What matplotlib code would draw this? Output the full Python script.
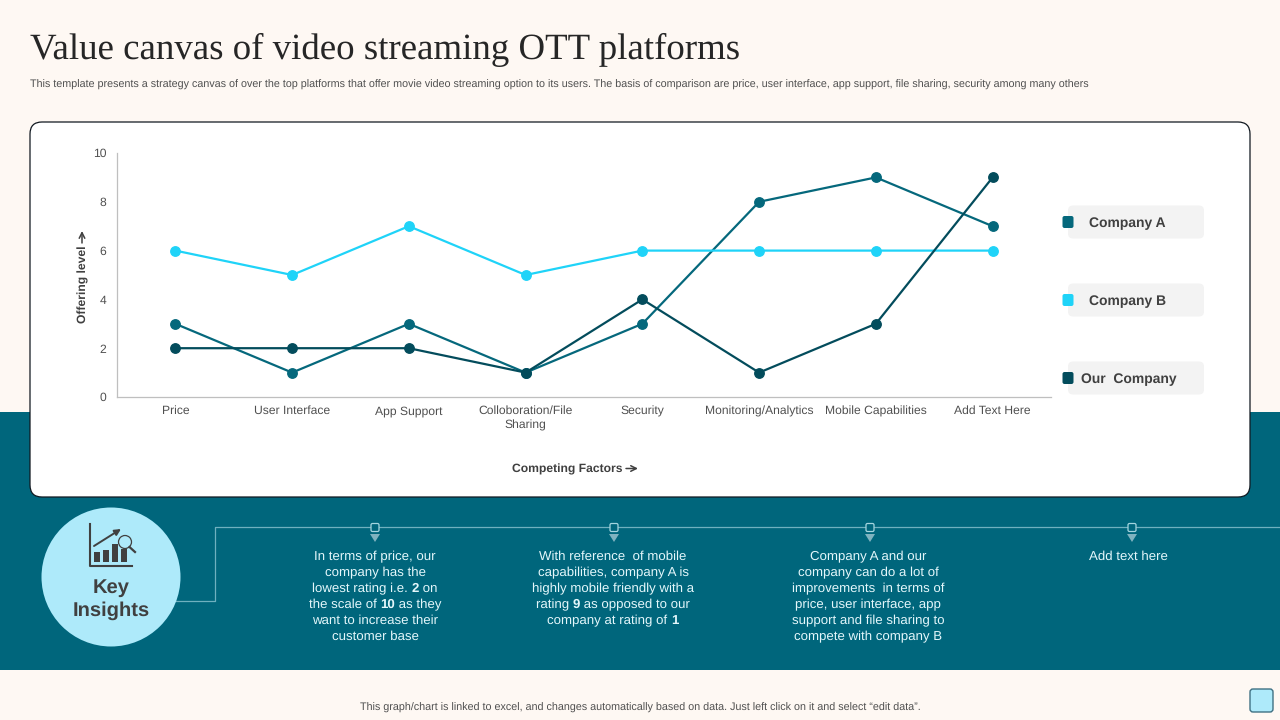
import matplotlib
matplotlib.use("Agg")
import matplotlib.pyplot as plt
from matplotlib.patches import FancyBboxPatch, Circle, Rectangle, Polygon

plt.rcParams['font.family'] = ['Liberation Sans', 'DejaVu Sans']
plt.rcParams['text.hinting'] = 'no_hinting'

# data
categories = ["Price", "User Interface", "App Support", "Colloboration/File\nSharing", "Security",
              "Monitoring/Analytics", "Mobile Capabilities", "Add Text Here"]
company_a = [3, 1, 3, 1, 3, 8, 9, 7]
company_b = [6, 5, 7, 5, 6, 6, 6, 6]
our_company = [2, 2, 2, 1, 4, 1, 3, 9]
y_ticks = [0, 2, 4, 6, 8, 10]

CREAM = "#fef8f3"
TEAL = "#00667c"
CYAN = "#1fd3f8"
A_COL = "#05687c"
OUR_COL = "#034c5c"
PALE = "#aeeafa"
DARK = "#404040"
LINE = "#6fb0bf"

fig = plt.figure(figsize=(12.8, 7.2), dpi=100, facecolor=CREAM)
renderer = fig.canvas.get_renderer()

# page layer in pixel coordinates
bg = fig.add_axes([0, 0, 1, 1])
bg.set_xlim(0, 1280)
bg.set_ylim(720, 0)
bg.axis("off")


def text_width(s, **kw):
    # padded with x on both sides so that spaces at the ends are counted
    t1 = bg.text(0, 0, "x" + s + "x", **kw)
    t2 = bg.text(0, 0, "xx", **kw)
    w = t1.get_window_extent(renderer).width - t2.get_window_extent(renderer).width
    t1.remove()
    t2.remove()
    return w


def mixed_row(cx, y, row, fontsize=9.5, color="#e4f7fb"):
    # row is split on * : odd pieces are bold
    parts = row.split("*")
    weights = ["bold" if i % 2 else "normal" for i in range(len(parts))]
    widths = [text_width(p, fontsize=fontsize, fontweight=w) for p, w in zip(parts, weights)]
    px = cx - sum(widths) / 2
    for p, w, pw in zip(parts, weights, widths):
        bg.text(px, y, p, fontsize=fontsize, fontweight=w, color=color, ha="left", va="baseline")
        px += pw


bg.add_patch(Rectangle((0, 412), 1280, 258, fc=TEAL, ec="none"))
bg.add_patch(FancyBboxPatch((30, 122), 1220, 375, boxstyle="round,pad=0,rounding_size=12",
                            fc="white", ec="#101820", lw=0.9))

bg.text(30, 59, "Value canvas of video streaming OTT platforms", family="Liberation Serif",
        fontsize=26.6, color="#262626", va="baseline", ha="left")
bg.text(30, 84.5, "This template presents a strategy canvas of over the top platforms that offer movie video "
        "streaming option to its users. The basis of comparison are price, user interface, app support, "
        "file sharing, security among many others", fontsize=7.78, color="#505050", va="center", ha="left")
bg.text(640, 708, "This graph/chart is linked to excel, and changes automatically based on data. "
        "Just left click on it and select \u201cedit data\u201d.", fontsize=7.77, color="#505050",
        va="center", ha="center")
bg.add_patch(FancyBboxPatch((1250, 689), 23, 23, boxstyle="round,pad=0,rounding_size=3",
                            fc=PALE, ec="#3f7183", lw=1))

# legend chips
legend_names = ["Company A", "Company B", "Our  Company"]
legend_cols = [A_COL, CYAN, OUR_COL]
legend_y = [222, 300, 378]
legend_tx = [1089, 1089, 1081]
for name, col, ly, tx in zip(legend_names, legend_cols, legend_y, legend_tx):
    bg.add_patch(FancyBboxPatch((1068, ly - 16.5), 136, 33, boxstyle="round,pad=0,rounding_size=5",
                                fc="#f3f3f3", ec="none"))
    bg.add_patch(FancyBboxPatch((1062.5, ly - 6), 11, 12, boxstyle="round,pad=0,rounding_size=2",
                                fc=col, ec="none"))
    bg.text(tx, ly + 1, name, fontsize=10, fontweight="bold", color=DARK, va="center", ha="left")

# connector and timeline
bg.plot([170, 215, 215, 1280], [601, 601, 527, 527], color=LINE, lw=0.9)
for mx in [375, 614, 870, 1132]:
    bg.add_patch(FancyBboxPatch((mx - 4, 523.5), 8, 8, boxstyle="round,pad=0,rounding_size=1.5",
                                fc=TEAL, ec="#a5d5df", lw=0.9, zorder=3))
    bg.add_patch(Polygon([(mx - 5, 534), (mx + 5, 534), (mx, 542)], fc="#7fb3c0", ec="none"))

# key insights badge
bg.add_patch(Circle((111, 577), 69.5, fc=PALE, ec="none", zorder=3))
bg.text(111, 588, "Key", fontsize=14.5, fontweight="bold", color=DARK, ha="center", va="center", zorder=4)
bg.text(111, 611, "Insights", fontsize=14.5, fontweight="bold", color=DARK, ha="center", va="center", zorder=4)
bg.plot([90, 90, 132], [524, 565.5, 565.5], color=DARK, lw=1.5, zorder=4)
for bx, top in [(94, 552), (102.5, 550), (112, 544), (120.5, 549)]:
    bg.add_patch(Rectangle((bx, top), 6, 562 - top, fc=DARK, ec="none", zorder=4))
bg.annotate("", xy=(121, 529), xytext=(94, 546), zorder=4,
            arrowprops=dict(arrowstyle="-|>", color=DARK, lw=1.4, mutation_scale=9, shrinkA=0, shrinkB=0))
bg.add_patch(Circle((125, 542), 6.5, fc=PALE, ec=DARK, lw=0.9, zorder=5))
bg.plot([129.5, 135], [547, 552], color=DARK, lw=1.6, zorder=5)

# insight texts
insights = [
    (375, ["In terms of price, our", "company has the", "lowest rating i.e. *2* on",
           "the scale of *10* as they", "want to increase their", "customer base"]),
    (613, ["With reference  of mobile", "capabilities, company A is", "highly mobile friendly with a",
           "rating *9* as opposed to our", "company at rating of *1*"]),
    (868, ["Company A and our", "company can do a lot of", "improvements  in terms of",
           "price, user interface, app", "support and file sharing to", "compete with company B"]),
    (1128, ["Add text here"]),
]
for ix, rows in insights:
    for i, row in enumerate(rows):
        mixed_row(ix, 560 + 16 * i, row)

# chart
ax = fig.add_axes([117 / 1280, 1 - 397 / 720, 934 / 1280, 244 / 720])
ax.patch.set_alpha(0)
x = range(len(categories))
ax.plot(x, company_a, color=A_COL, lw=1.6, marker="o", ms=6.8)
ax.plot(x, company_b, color=CYAN, lw=1.6, marker="o", ms=6.8)
ax.plot(x, our_company, color=OUR_COL, lw=1.6, marker="o", ms=6.8)

ax.set_xlim(-0.5, 7.5)
ax.set_ylim(0, 10)
ax.set_yticks(y_ticks)
ax.set_xticks(list(x))
ax.set_xticklabels(categories, fontsize=8.75, color="#505050", linespacing=1.4)
ax.tick_params(axis="y", length=0, pad=7.5, labelsize=8.75, labelcolor="#505050")
ax.tick_params(axis="x", length=0, pad=6)
for side in ["top", "right"]:
    ax.spines[side].set_visible(False)
for side in ["left", "bottom"]:
    ax.spines[side].set_color("#bfbfbf")
    ax.spines[side].set_linewidth(0.9)

# axis titles, arrows drawn apart since the font's arrow is tiny
bg.text(83, 284, "Offering level", fontsize=8.7, fontweight="bold", color=DARK,
        rotation=90, ha="center", va="center")
bg.annotate("", xy=(82, 231), xytext=(82, 243),
            arrowprops=dict(arrowstyle="->", color=DARK, lw=1.1, mutation_scale=10, shrinkA=0, shrinkB=0))
bg.text(567.5, 469, "Competing Factors", fontsize=8.7, fontweight="bold", color=DARK,
        ha="center", va="center")
bg.annotate("", xy=(638, 468.5), xytext=(626, 468.5),
            arrowprops=dict(arrowstyle="->", color=DARK, lw=1.1, mutation_scale=10, shrinkA=0, shrinkB=0))

fig.savefig("out.png", dpi=100, facecolor=CREAM)
